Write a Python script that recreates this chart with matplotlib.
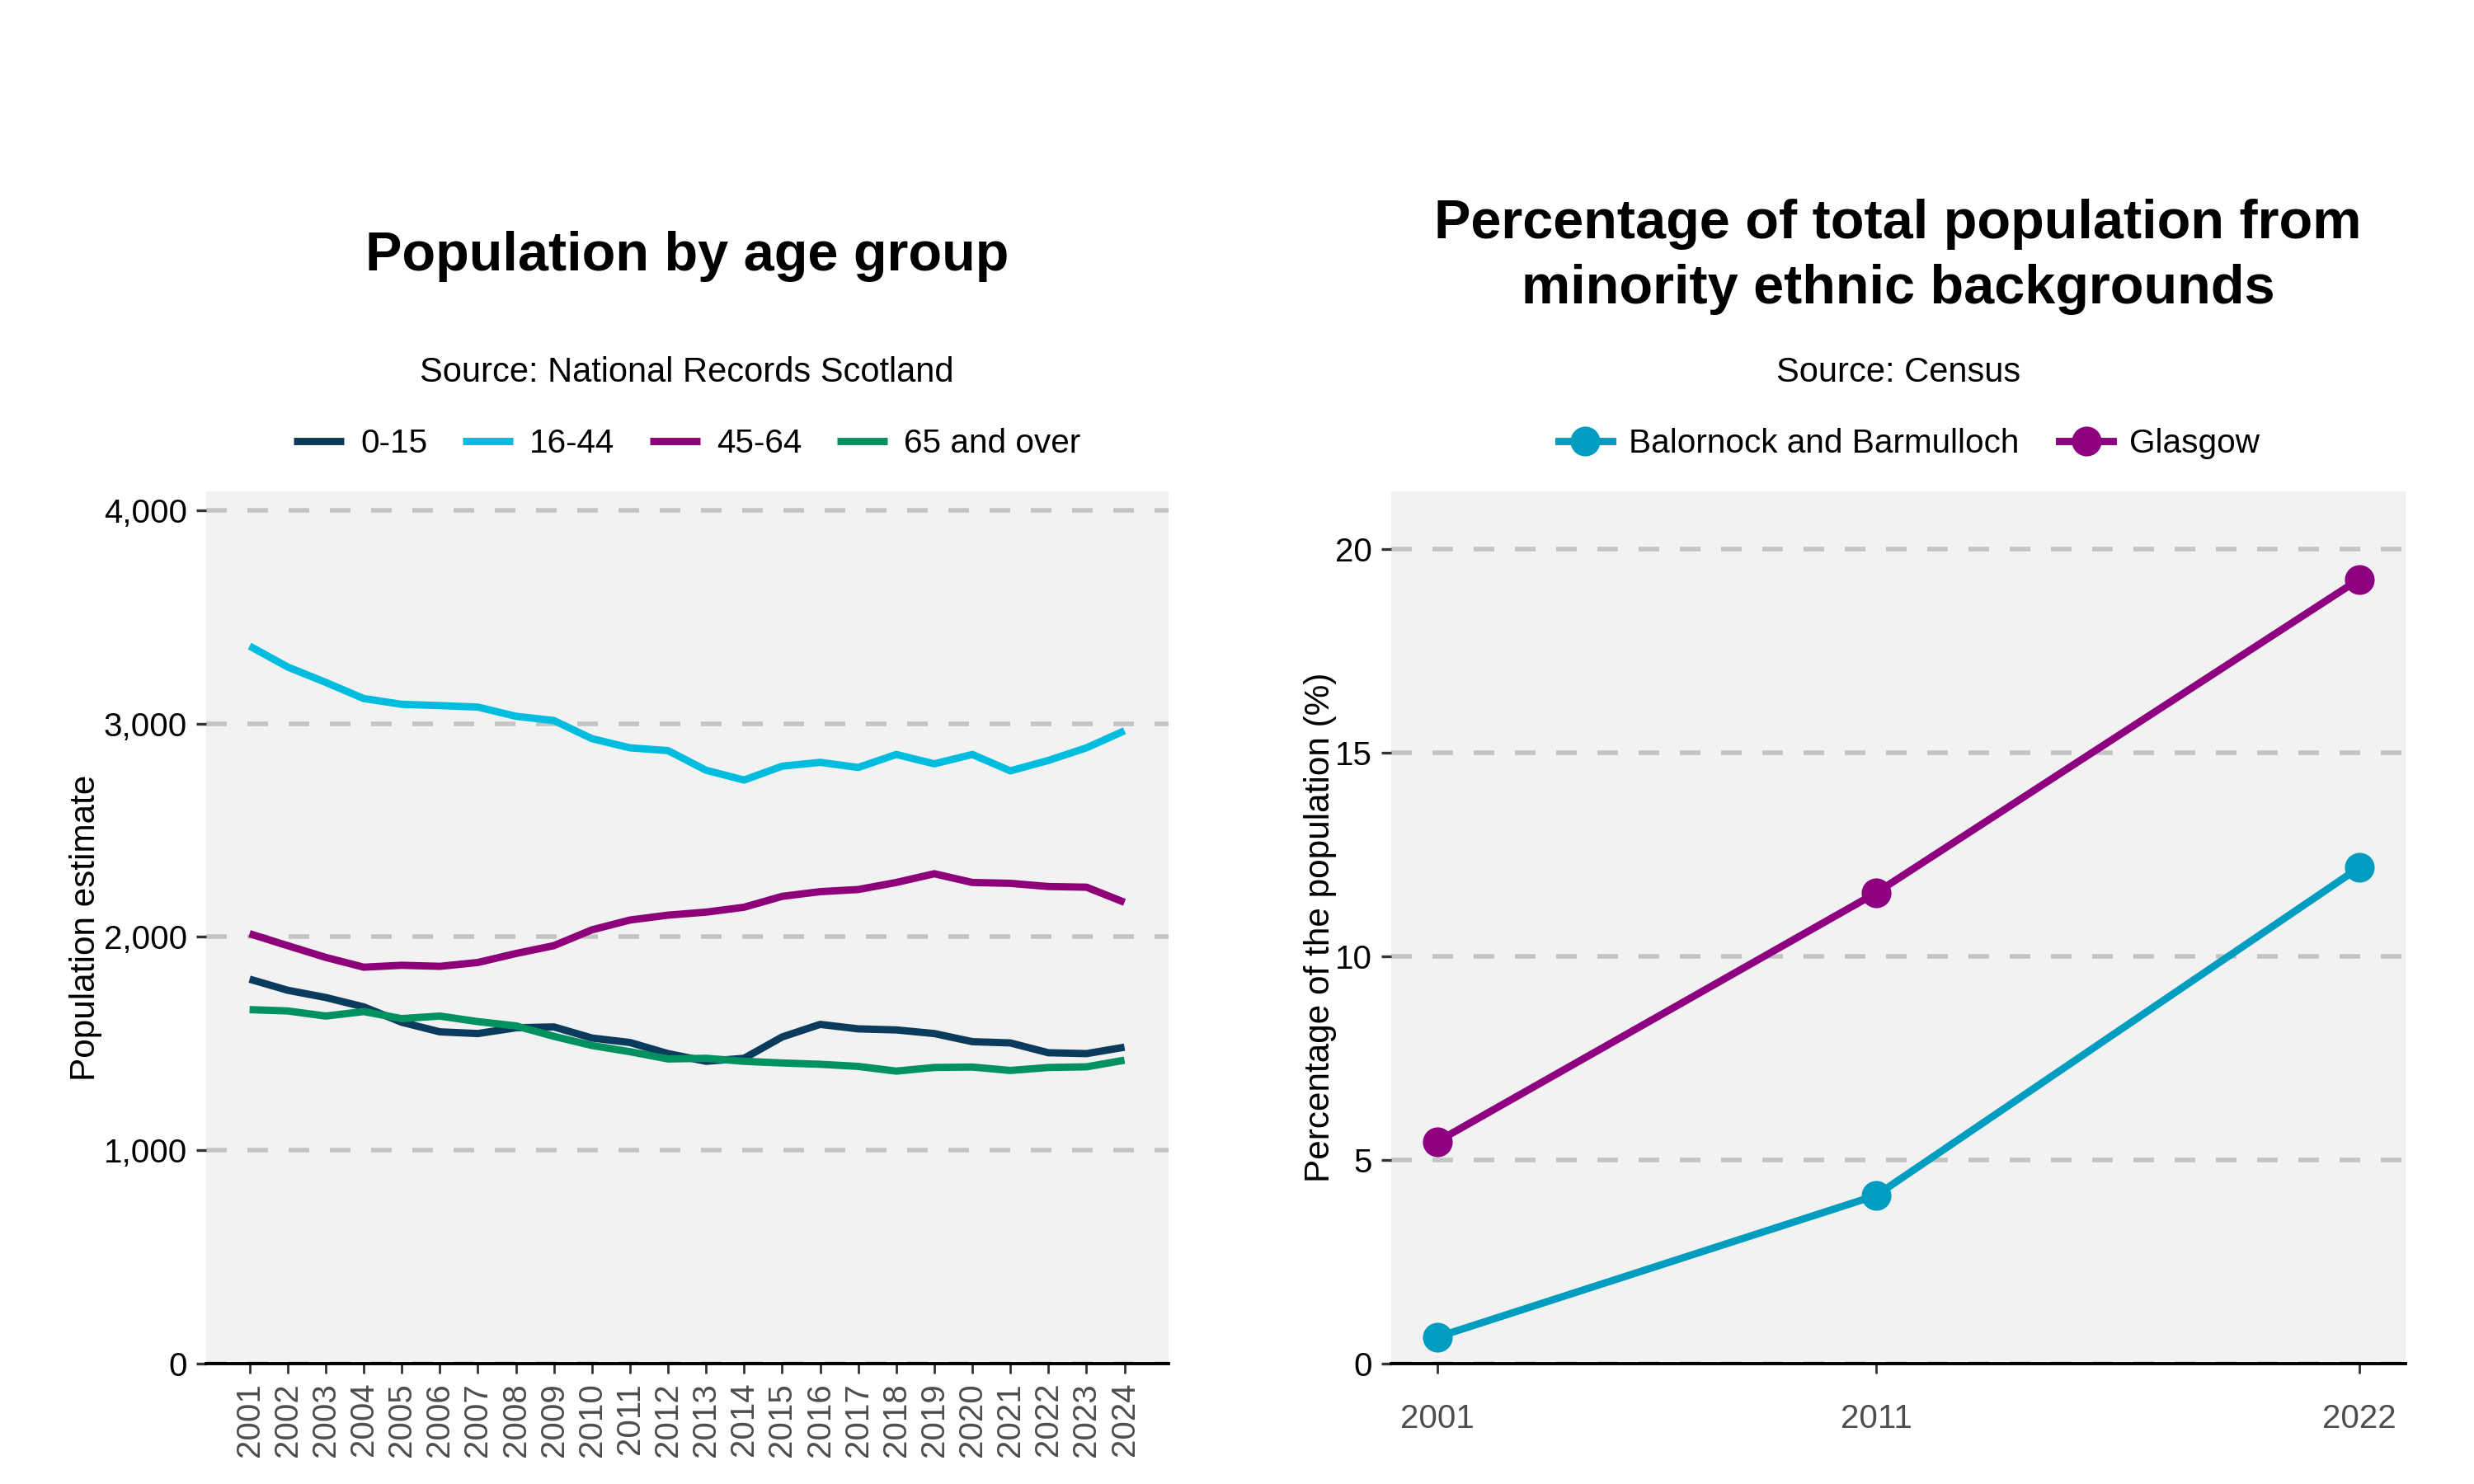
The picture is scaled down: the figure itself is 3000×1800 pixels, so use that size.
import numpy as np
import matplotlib

matplotlib.use("Agg")
import matplotlib.pyplot as plt
from matplotlib.ticker import FuncFormatter

plt.rcParams["font.family"] = ["Liberation Sans", "DejaVu Sans"]

# left panel: population by age group
years = list(range(2001, 2025))
age_groups = ["0-15", "16-44", "45-64", "65 and over"]
pop_0_15 = [1802, 1750, 1716, 1672, 1600, 1555, 1547, 1574, 1578, 1526, 1505, 1453,
            1417, 1431, 1531, 1590, 1569, 1564, 1547, 1509, 1503, 1457, 1453, 1483]
pop_16_44 = [3363, 3265, 3193, 3117, 3090, 3084, 3077, 3034, 3014, 2929, 2886, 2873,
             2781, 2735, 2800, 2818, 2794, 2855, 2811, 2855, 2778, 2827, 2886, 2966]
pop_45_64 = [2015, 1959, 1904, 1858, 1867, 1862, 1880, 1922, 1959, 2033, 2079, 2102,
             2116, 2139, 2190, 2212, 2222, 2255, 2296, 2255, 2251, 2236, 2233, 2162]
pop_65 = [1659, 1653, 1629, 1650, 1617, 1629, 1603, 1583, 1534, 1491, 1462, 1428,
          1431, 1417, 1409, 1403, 1393, 1371, 1388, 1390, 1374, 1388, 1391, 1422]
age_colors = ["#0B3B5C", "#00BDE0", "#8E0079", "#00925E"]

# right panel: minority ethnic share
census_years = [2001, 2011, 2022]
areas = ["Balornock and Barmulloch", "Glasgow"]
pct_balornock = [0.65, 4.13, 12.18]
pct_glasgow = [5.45, 11.56, 19.26]
area_colors = ["#009DC0", "#8E0080"]

BG = "#F2F2F2"
GRID = "#C4C4C4"

fig = plt.figure(figsize=(15, 9), dpi=200)
ax1 = fig.add_axes([0.0832, 0.0811, 0.3890, 0.5878])
ax2 = fig.add_axes([0.5622, 0.0811, 0.4100, 0.5878])


def style_axes(ax):
    ax.set_facecolor(BG)
    for side in ["left", "right", "top"]:
        ax.spines[side].set_visible(False)
    ax.spines["bottom"].set_color("black")
    ax.spines["bottom"].set_linewidth(1.4)
    ax.spines["bottom"].set_zorder(5)
    ax.yaxis.grid(True, color=GRID, lw=2.0, dashes=(4.5, 4.5))
    ax.xaxis.grid(False)
    ax.set_axisbelow(True)
    ax.tick_params(axis="y", length=4.2, width=1.2, color="#333333", labelsize=14.5,
                   labelcolor="black", pad=4)
    ax.tick_params(axis="x", length=4.2, width=1.0, color="#333333", labelsize=14.5,
                   labelcolor="#4D4D4D", pad=4)


style_axes(ax1)
series = [pop_0_15, pop_16_44, pop_45_64, pop_65]
for name, vals, col in zip(age_groups, series, age_colors):
    ax1.plot(years, vals, color=col, lw=3.2, label=name, solid_capstyle="butt")
ax1.set_xlim(2001 - 1.15, 2024 + 1.15)
ax1.set_ylim(0, 4088)
ax1.set_yticks([0, 1000, 2000, 3000, 4000])
ax1.yaxis.set_major_formatter(FuncFormatter(lambda v, p: f"{int(v):,}"))
ax1.set_xticks(years)
ax1.set_xticklabels([str(y) for y in years], rotation=90)
ax1.set_ylabel("Population estimate", fontsize=15.2)
ax1.yaxis.set_label_coords(-0.108, 0.5)
ax1.legend(loc="lower center", bbox_to_anchor=(0.5, 1.002), ncol=4, frameon=False,
           fontsize=14.6, handlelength=1.5, handletextpad=0.5, columnspacing=1.05)
fig.text(0.2777, 0.827, "Population by age group", ha="center", va="center",
         fontsize=24, fontweight="bold")
fig.text(0.2777, 0.749, "Source: National Records Scotland", ha="center", va="center",
         fontsize=15)

style_axes(ax2)
for name, vals, col in zip(areas, [pct_balornock, pct_glasgow], area_colors):
    ax2.plot(census_years, vals, color=col, lw=3.2, marker="o", markersize=12,
             label=name)
ax2.set_xlim(2001 - 1.05, 2022 + 1.05)
ax2.set_ylim(0, 21.42)
ax2.set_yticks([0, 5, 10, 15, 20])
ax2.set_xticks(census_years)
ax2.tick_params(axis="x", pad=13)
ax2.set_ylabel("Percentage of the population (%)", fontsize=15.2)
ax2.yaxis.set_label_coords(-0.053, 0.5)
ax2.legend(loc="lower center", bbox_to_anchor=(0.511, 1.002), ncol=2, frameon=False,
           fontsize=14.6, handlelength=1.6, handletextpad=0.5, columnspacing=1.2)
fig.text(0.7672, 0.827, "Percentage of total population from\nminority ethnic backgrounds",
         ha="center", va="center", fontsize=24, fontweight="bold", linespacing=1.35)
fig.text(0.7672, 0.749, "Source: Census", ha="center", va="center", fontsize=15)

fig.savefig("out.png", dpi=200)
